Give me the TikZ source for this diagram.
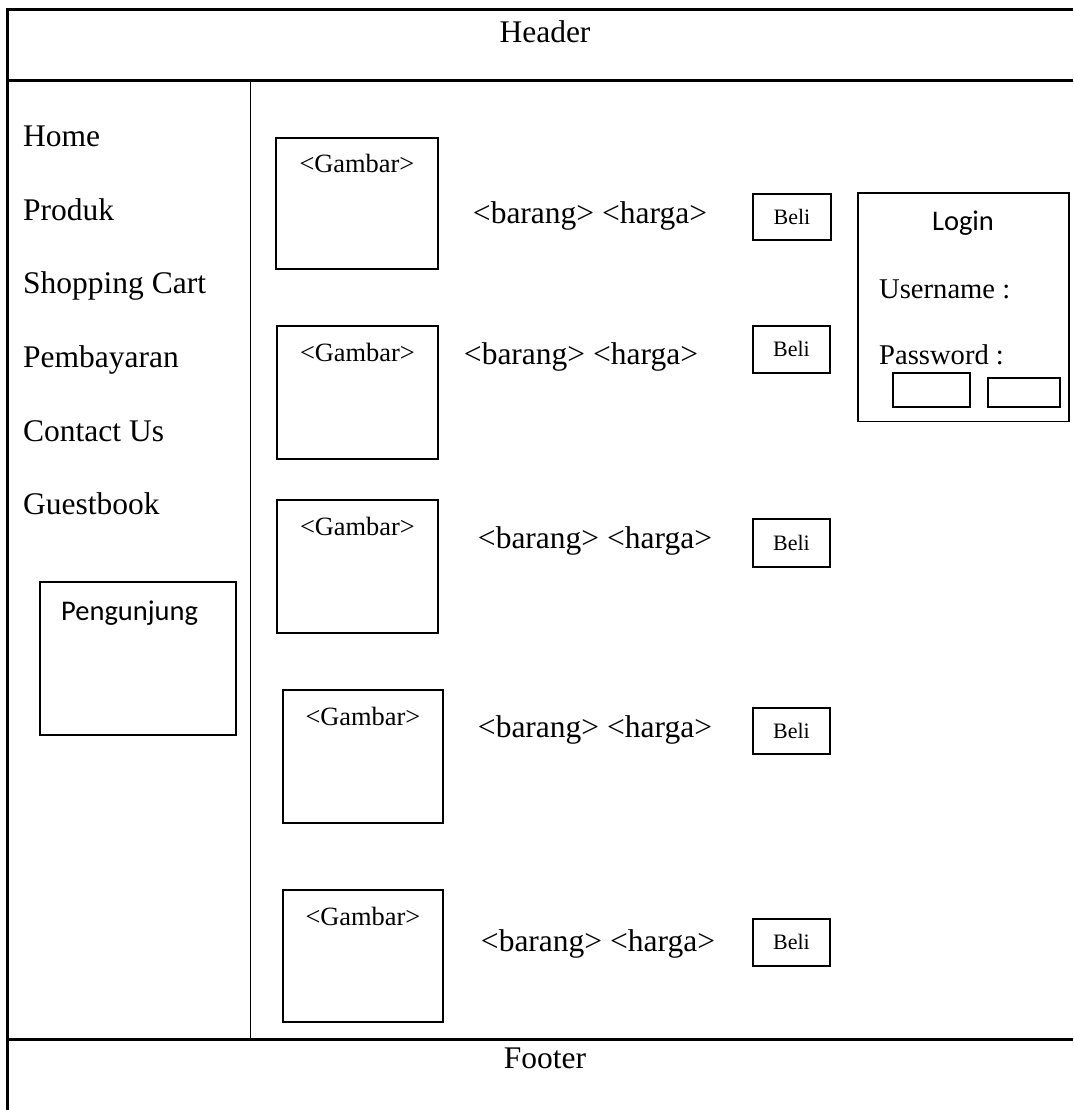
\documentclass[tikz,border=0pt]{standalone}
\usepackage{fontspec}
\setmainfont{Liberation Serif}
\newfontfamily\calib{Carlito}
\begin{document}
\begin{tikzpicture}[x=1pt,y=-1pt,
  frame/.style={line width=3pt},
  thin/.style={line width=1.6pt},
  box/.style={draw,line width=1.8pt,inner sep=0pt,anchor=north west},
  big/.style={inner sep=0pt,font=\fontsize{31.5}{36}\selectfont},
  gam/.style={inner sep=0pt,anchor=base,font=\fontsize{26.4}{30}\selectfont},
  beli/.style={inner sep=0pt,font=\fontsize{22}{26}\selectfont},
  mid/.style={inner sep=0pt,anchor=base west,font=\fontsize{28.6}{32}\selectfont},
  cal/.style={inner sep=0pt,font=\calib\fontsize{28.5}{32}\selectfont}]
\useasboundingbox (0,0) rectangle (1073,1110);
% frame
\coordinate (tl) at (7.7,10);
\coordinate (tr) at (1073,10);
\coordinate (hl) at (7.7,80.5);
\coordinate (hr) at (1073,80.5);
\coordinate (fl) at (7.7,1039);
\coordinate (fr) at (1073,1039);
\coordinate (bl) at (7.7,1110);
\coordinate (st) at (250.3,79.3);
\coordinate (sb) at (250.3,1041);
\draw[frame] (tr) -- (tl) -- (bl);
\draw[frame] (hl) -- (hr);
\draw[frame] (fl) -- (fr);
\draw[thin] (st) -- (sb);
\node[big] (header) at (545,32) {Header};
\node[big] (footer) at (545,1058) {Footer};
% menu
\node[big,anchor=base west] (home) at (23,146.5) {Home};
\node[big,anchor=base west] (produk) at (23,220) {Produk};
\node[big,anchor=base west] (cart) at (23,293.5) {Shopping Cart};
\node[big,anchor=base west] (bayar) at (23,367.5) {Pembayaran};
\node[big,anchor=base west] (contact) at (23,441) {Contact Us};
\node[big,anchor=base west] (guest) at (23,514) {Guestbook};
% pengunjung
\node[box,minimum width=196pt,minimum height=153pt] (peng) at (39,581) {};
\node[cal,anchor=base west] (pengt) at (61,620) {Pengunjung};
% gambar boxes
\node[box,minimum width=162pt,minimum height=131pt] (g1) at (275,137) {};
\node[box,minimum width=161pt,minimum height=133pt] (g2) at (276,325) {};
\node[box,minimum width=161pt,minimum height=133pt] (g3) at (276,499) {};
\node[box,minimum width=160pt,minimum height=133pt] (g4) at (282,689) {};
\node[box,minimum width=160pt,minimum height=132pt] (g5) at (282,889) {};
\node[gam] (g1t) at ([yshift=-36pt]g1.north) {<Gambar>};
\node[gam] (g2t) at ([yshift=-36pt]g2.north) {<Gambar>};
\node[gam] (g3t) at ([yshift=-36pt]g3.north) {<Gambar>};
\node[gam] (g4t) at ([yshift=-36pt]g4.north) {<Gambar>};
\node[gam] (g5t) at ([yshift=-36pt]g5.north) {<Gambar>};
% barang harga
\node[big,anchor=base] (b1) at (590,223) {<barang> <harga>};
\node[big,anchor=base] (b2) at (581,364) {<barang> <harga>};
\node[big,anchor=base] (b3) at (595,548) {<barang> <harga>};
\node[big,anchor=base] (b4) at (595,737) {<barang> <harga>};
\node[big,anchor=base] (b5) at (598,951) {<barang> <harga>};
% beli
\node[box,minimum width=78pt,minimum height=46pt] (k1) at (752,193) {};
\node[box,minimum width=77pt,minimum height=47pt] (k2) at (752,325) {};
\node[box,minimum width=77pt,minimum height=48pt] (k3) at (752,518) {};
\node[box,minimum width=77pt,minimum height=46pt] (k4) at (752,707) {};
\node[box,minimum width=77pt,minimum height=47pt] (k5) at (752,918) {};
\node[beli] (k1t) at (k1.center) {Beli};
\node[beli] (k2t) at (k2.center) {Beli};
\node[beli] (k3t) at (k3.center) {Beli};
\node[beli] (k4t) at (k4.center) {Beli};
\node[beli] (k5t) at (k5.center) {Beli};
% login
\node[box,minimum width=211pt,minimum height=228pt] (login) at (857,192.5) {};
\node[cal,anchor=base] (logint) at (963,230) {Login};
\node[mid] (user) at (879,298) {Username :};
\node[mid] (pass) at (879,364) {Password :};
\node[box,minimum width=77pt,minimum height=34pt] (in1) at (892,372) {};
\node[box,minimum width=72pt,minimum height=29pt] (in2) at (987,377) {};
\end{tikzpicture}
\end{document}
